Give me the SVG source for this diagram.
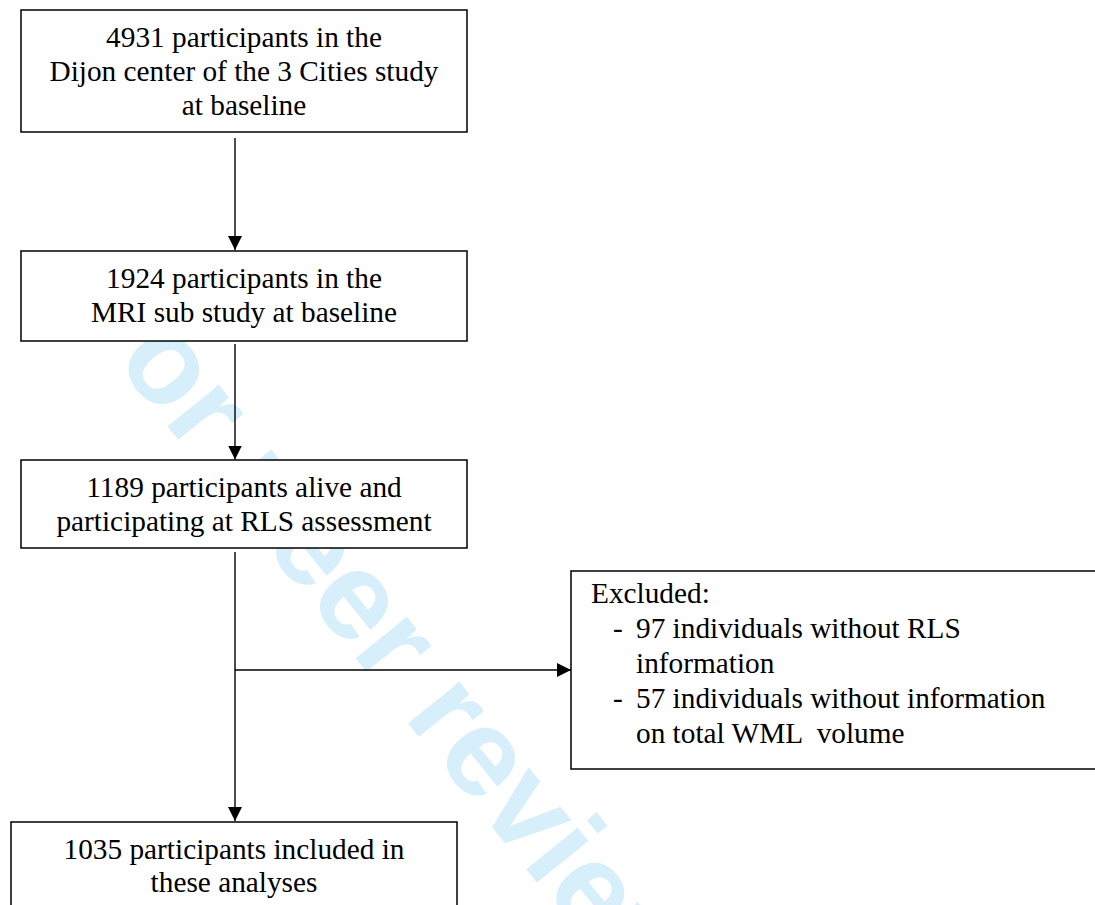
<svg xmlns="http://www.w3.org/2000/svg" width="1095" height="905" viewBox="0 0 1095 905">
<style>
.box{fill:#ffffff;stroke:#000000;stroke-width:1.5}
.t{font-family:"Liberation Serif","Times New Roman",serif;font-size:29.3px;fill:#000000}
.c{text-anchor:middle}
.ln{stroke:#000000;stroke-width:1.4;fill:none}
.wm{font-family:"Liberation Sans",Arial,sans-serif;font-weight:bold;font-size:125px;fill:#d7effb}
</style>
<defs>
<marker id="ah" viewBox="0 0 10 10" refX="10" refY="5" markerWidth="10" markerHeight="10" markerUnits="userSpaceOnUse" orient="auto">
<path d="M0,0 L10,5 L0,10 Z" fill="#000000"/>
</marker>
<marker id="ahb" viewBox="0 0 14 14" refX="14" refY="7" markerWidth="14" markerHeight="14" markerUnits="userSpaceOnUse" orient="auto">
<path d="M0,0 L14,7 L0,14 Z" fill="#000000"/>
</marker>
</defs>
<rect width="1095" height="905" fill="#ffffff"/>
<text class="wm" transform="translate(66,301) rotate(51)">For peer review</text>
<g id="connectors">
<line class="ln" x1="235" y1="138" x2="235" y2="250" marker-end="url(#ahb)"/>
<line class="ln" x1="235" y1="344" x2="235" y2="459.5" marker-end="url(#ahb)"/>
<line class="ln" x1="235" y1="552" x2="235" y2="821" marker-end="url(#ahb)"/>
<line class="ln" x1="235" y1="670" x2="571" y2="670" marker-end="url(#ahb)"/>
</g>
<g id="n1">
<rect class="box" x="21" y="10" width="446" height="122"/>
<text class="t c" x="244" y="47">4931 participants in the</text>
<text class="t c" x="244" y="81">Dijon center of the 3 Cities study</text>
<text class="t c" x="244" y="115">at baseline</text>
</g>
<g id="n2">
<rect class="box" x="21" y="251" width="446" height="90"/>
<text class="t c" x="244" y="288">1924 participants in the</text>
<text class="t c" x="244" y="322">MRI sub study at baseline</text>
</g>
<g id="n3">
<rect class="box" x="21" y="460" width="446" height="88"/>
<text class="t c" x="244" y="497">1189 participants alive and</text>
<text class="t c" x="244" y="531">participating at RLS assessment</text>
</g>
<g id="n4">
<rect class="box" x="571" y="571" width="540" height="198"/>
<text class="t" x="591" y="603">Excluded:</text>
<text class="t" x="613" y="638">-</text>
<text class="t" x="636" y="638">97 individuals without RLS</text>
<text class="t" x="636" y="673">information</text>
<text class="t" x="613" y="708">-</text>
<text class="t" x="636" y="708">57 individuals without information</text>
<text class="t" x="636" y="743" xml:space="preserve">on total WML  volume</text>
</g>
<g id="n5">
<rect class="box" x="11" y="822" width="446" height="100"/>
<text class="t c" x="234" y="859">1035 participants included in</text>
<text class="t c" x="234" y="892">these analyses</text>
</g>
</svg>
